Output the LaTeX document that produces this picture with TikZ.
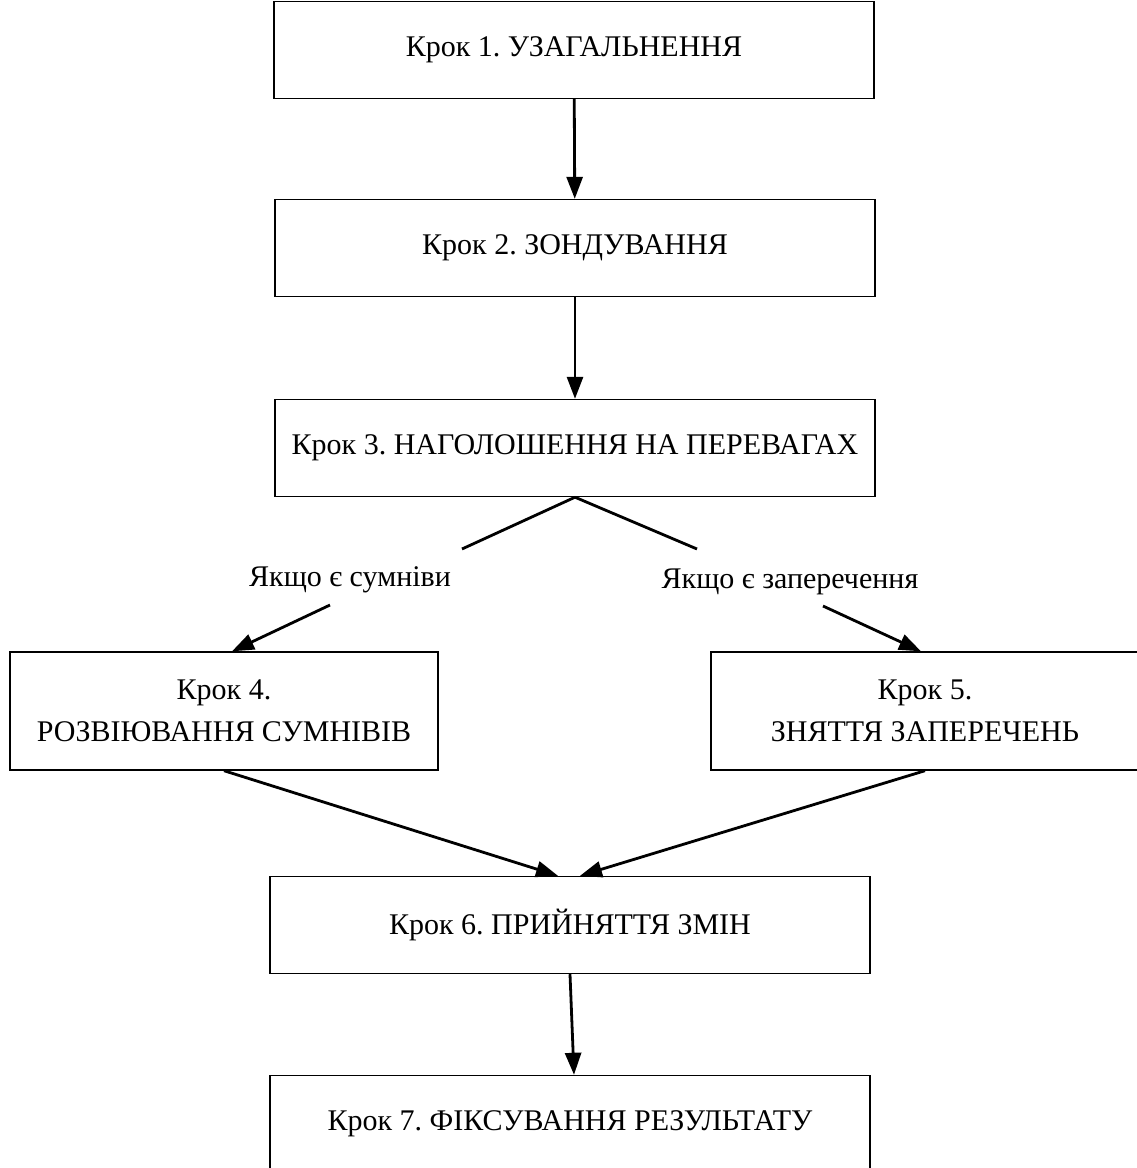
\documentclass[tikz,border=0pt]{standalone}
\usepackage{fontspec}
\setmainfont{Liberation Serif}
\usetikzlibrary{arrows.meta, calc}
\frenchspacing

\begin{document}
\begin{tikzpicture}[x=0.5pt, y=-0.5pt, >={Triangle[length=11pt,width=8pt]}, line width=1.4pt,
    krok/.style={draw, line width=0.7pt, minimum width=300pt, minimum height=48.5pt, inner sep=0pt, align=center, font=\fontsize{15}{21}\selectfont},
    wide/.style={krok, minimum width=214pt, minimum height=59pt},
    umova/.style={inner sep=0pt, font=\fontsize{15}{18}\selectfont}]
      \useasboundingbox (0,0) rectangle (1136,1168);

      \node[krok] (k1) at (574,50) {Крок 1. УЗАГАЛЬНЕННЯ};
      \node[krok] (k2) at (575,248) {Крок 2. ЗОНДУВАННЯ};
      \node[krok] (k3) at (575,448) {Крок 3. НАГОЛОШЕННЯ НА ПЕРЕВАГАХ};
      \node[wide] (k4) at (224,711) {Крок 4.\\РОЗВІЮВАННЯ СУМНІВІВ};
      \node[wide] (k5) at (925,711) {Крок 5.\\ЗНЯТТЯ ЗАПЕРЕЧЕНЬ};
      \node[krok] (k6) at (570,925) {Крок 6. ПРИЙНЯТТЯ ЗМІН};
      \node[krok] (k7) at (570,1124) {Крок 7. ФІКСУВАННЯ РЕЗУЛЬТАТУ};

      \node[umova] (sumniv) at (350,580) {Якщо є сумніви};
      \node[umova] (zaper) at (790,582) {Якщо є заперечення};

      \coordinate (v1) at (462,549);
      \coordinate (v2) at (330,605);
      \coordinate (v3) at (697,549);
      \coordinate (v4) at (823,606);

      \draw[->] (k1) -- (k2);
      \draw[->] (k2) -- (k3);
      \draw (k3.south) -- (v1);
      \draw[->] (v2) -- ($(k4.north)+(8,0)$);
      \draw (k3.south) -- (v3);
      \draw[->] (v4) -- ($(k5.north)+(-4,0)$);
      \draw[->] (k4.south) -- ($(k6.north)+(-12,0)$);
      \draw[->] (k5.south) -- ($(k6.north)+(10,0)$);
      \draw[->] (k6.south) -- ($(k7.north)+(4,0)$);
    \end{tikzpicture}
\end{document}
